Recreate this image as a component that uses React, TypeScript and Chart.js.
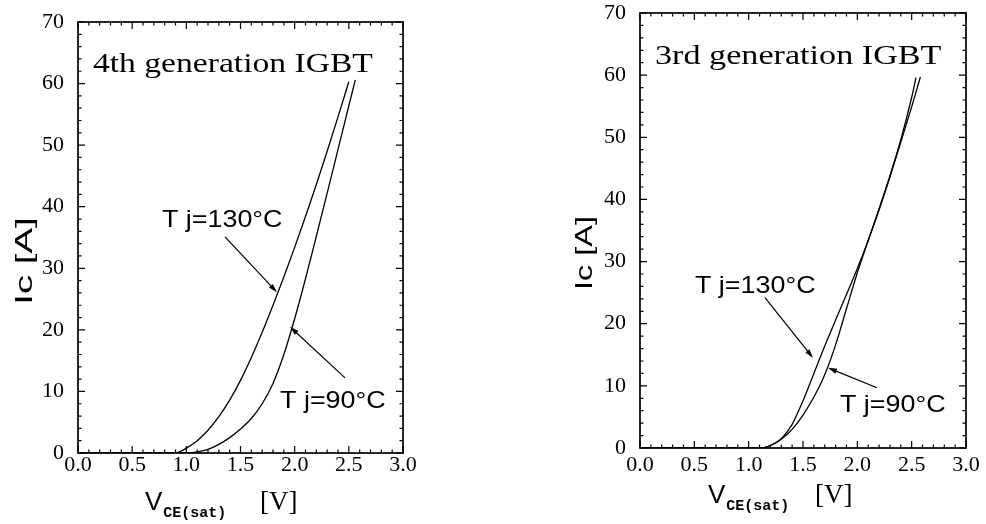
import React, { useEffect, useRef } from "react";
import { Chart, registerables } from "chart.js";

Chart.register(...registerables);

// ---- Data (VCE(sat) [V] vs Ic [A]) ----
// 4th generation IGBT
const V_4TH_130 = [0, 0.5, 0.9, 0.95, 1.0, 1.1, 1.2, 1.3, 1.4, 1.5, 1.6, 1.7, 1.8, 1.9, 2.0, 2.1, 2.2, 2.3, 2.4, 2.5];
const I_4TH_130 = [0, 0, 0, 0.3, 0.8, 2.0, 3.7, 5.9, 8.6, 11.8, 15.5, 19.6, 24.0, 28.6, 33.4, 38.4, 43.6, 49.0, 54.6, 60.3];
const V_4TH_90 = [0, 0.5, 1.0, 1.1, 1.2, 1.3, 1.4, 1.5, 1.6, 1.7, 1.8, 1.9, 2.0, 2.1, 2.2, 2.3, 2.4, 2.5, 2.56];
const I_4TH_90 = [0, 0, 0, 0.2, 0.6, 1.4, 2.5, 3.9, 5.6, 8.0, 11.3, 16.0, 21.8, 28.3, 35.2, 42.2, 49.3, 56.4, 60.6];

// 3rd generation IGBT
const V_3RD_130 = [0, 1.0, 1.12, 1.2, 1.3, 1.4, 1.5, 1.6, 1.7, 1.8, 1.9, 2.0, 2.1, 2.2, 2.3, 2.4, 2.5, 2.58];
const I_3RD_130 = [0, 0, 0, 0.4, 1.5, 3.8, 7.6, 12.0, 16.4, 20.6, 24.7, 28.9, 33.4, 38.3, 43.6, 49.2, 54.9, 59.7];
const V_3RD_90 = [0, 1.0, 1.12, 1.2, 1.3, 1.4, 1.5, 1.6, 1.7, 1.8, 1.9, 2.0, 2.1, 2.2, 2.3, 2.4, 2.5, 2.54];
const I_3RD_90 = [0, 0, 0, 0.4, 1.4, 3.0, 5.3, 8.2, 11.8, 16.6, 22.4, 28.2, 33.4, 38.5, 43.8, 49.6, 56.4, 59.6];

// Axes
const X_MIN = 0;
const X_MAX = 3;
const X_STEP = 0.5;
const X_MINOR = 0.1;
const Y_MIN = 0;
const Y_MAX = 70;
const Y_STEP = 10;
const Y_MINOR = 2;

const TITLE_4TH = "4th generation IGBT";
const TITLE_3RD = "3rd generation IGBT";
const LABEL_130 = "T j=130°C";
const LABEL_90 = "T j=90°C";
const Y_TITLE = "Ic [A]";
const X_TITLE_MAIN = "V";
const X_TITLE_SUB = "CE(sat)";
const X_TITLE_UNIT = "[V]";

type Pt = [number, number];

interface DecorOpts {
  title: string;
  titleAt: Pt;
  titleScaleX: number;
  label130At: Pt;
  arrow130: [Pt, Pt];
  label90At: Pt;
  arrow90: [Pt, Pt];
  labelScaleX: number;
  yTitleX: number;
  yTitleY: number;
  yTitleScaleX: number;
  xTitleDx: number;
  xTitleBaseline: number;
  xSubBaseline: number;
  xUnitDx: number;
}

function drawText(ctx: CanvasRenderingContext2D, text: string, x: number, y: number, font: string, sx: number, align: CanvasTextAlign = "left") {
  ctx.save();
  ctx.font = font;
  ctx.fillStyle = "#000";
  ctx.textAlign = align;
  ctx.textBaseline = "alphabetic";
  ctx.translate(x, y);
  ctx.scale(sx, 1);
  ctx.fillText(text, 0, 0);
  ctx.restore();
}

function drawArrow(ctx: CanvasRenderingContext2D, x1: number, y1: number, x2: number, y2: number) {
  const ang = Math.atan2(y2 - y1, x2 - x1);
  const len = 9;
  const hw = 2.6;
  ctx.save();
  ctx.strokeStyle = "#000";
  ctx.fillStyle = "#000";
  ctx.lineWidth = 1.2;
  ctx.beginPath();
  ctx.moveTo(x1, y1);
  ctx.lineTo(x2 - Math.cos(ang) * len * 0.6, y2 - Math.sin(ang) * len * 0.6);
  ctx.stroke();
  ctx.beginPath();
  ctx.moveTo(x2, y2);
  ctx.lineTo(x2 - Math.cos(ang) * len - Math.sin(ang) * hw, y2 - Math.sin(ang) * len + Math.cos(ang) * hw);
  ctx.lineTo(x2 - Math.cos(ang) * len + Math.sin(ang) * hw, y2 - Math.sin(ang) * len - Math.cos(ang) * hw);
  ctx.closePath();
  ctx.fill();
  ctx.restore();
}

const decorPlugin = {
  id: "igbtDecor",
  afterDraw(chart: any, _args: any, opts: DecorOpts) {
    const ctx: CanvasRenderingContext2D = chart.ctx;
    const a = chart.chartArea;
    const xs = chart.scales.x;
    const ys = chart.scales.y;
    const px = (v: number) => xs.getPixelForValue(v);
    const py = (v: number) => ys.getPixelForValue(v);

    ctx.save();
    ctx.strokeStyle = "#000";
    ctx.lineWidth = 1.7;
    ctx.strokeRect(a.left, a.top, a.right - a.left, a.bottom - a.top);

    // inward ticks on all four sides
    ctx.lineWidth = 1.2;
    ctx.beginPath();
    const nx = Math.round((X_MAX - X_MIN) / X_MINOR);
    const perMajX = Math.round(X_STEP / X_MINOR);
    for (let i = 0; i <= nx; i++) {
      const x = px(X_MIN + i * X_MINOR);
      const L = i % perMajX === 0 ? 7 : 3.5;
      ctx.moveTo(x, a.bottom);
      ctx.lineTo(x, a.bottom - L);
      ctx.moveTo(x, a.top);
      ctx.lineTo(x, a.top + L);
    }
    const ny = Math.round((Y_MAX - Y_MIN) / Y_MINOR);
    const perMajY = Math.round(Y_STEP / Y_MINOR);
    for (let i = 0; i <= ny; i++) {
      const y = py(Y_MIN + i * Y_MINOR);
      const L = i % perMajY === 0 ? 7 : 3.5;
      ctx.moveTo(a.left, y);
      ctx.lineTo(a.left + L, y);
      ctx.moveTo(a.right, y);
      ctx.lineTo(a.right - L, y);
    }
    ctx.stroke();
    ctx.restore();

    // title inside plot
    drawText(ctx, opts.title, px(opts.titleAt[0]), py(opts.titleAt[1]), '28px "Liberation Serif", serif', opts.titleScaleX);

    // temperature labels + arrows
    const sans = '24px "Liberation Sans", Arial, sans-serif';
    drawText(ctx, LABEL_130, px(opts.label130At[0]), py(opts.label130At[1]), sans, opts.labelScaleX);
    drawText(ctx, LABEL_90, px(opts.label90At[0]), py(opts.label90At[1]), sans, opts.labelScaleX);
    drawArrow(ctx, px(opts.arrow130[0][0]), py(opts.arrow130[0][1]), px(opts.arrow130[1][0]), py(opts.arrow130[1][1]));
    drawArrow(ctx, px(opts.arrow90[0][0]), py(opts.arrow90[0][1]), px(opts.arrow90[1][0]), py(opts.arrow90[1][1]));

    // y axis title (rotated)
    ctx.save();
    ctx.translate(opts.yTitleX, opts.yTitleY);
    ctx.rotate(-Math.PI / 2);
    ctx.scale(opts.yTitleScaleX, 1);
    ctx.font = '24px "Liberation Sans", Arial, sans-serif';
    ctx.fillStyle = "#000";
    ctx.textAlign = "center";
    ctx.textBaseline = "middle";
    ctx.fillText(Y_TITLE, 0, 0);
    ctx.restore();

    // x axis title: V_CE(sat) [V]
    const vx = a.left + opts.xTitleDx;
    const vy = a.bottom + opts.xTitleBaseline;
    ctx.save();
    ctx.font = '26px "Liberation Sans", Arial, sans-serif';
    const vw = ctx.measureText(X_TITLE_MAIN).width;
    ctx.restore();
    drawText(ctx, X_TITLE_MAIN, vx, vy, '26px "Liberation Sans", Arial, sans-serif', 1);
    drawText(ctx, X_TITLE_SUB, vx + vw + 1, a.bottom + opts.xSubBaseline, 'bold 15px "Liberation Mono", "DejaVu Sans Mono", monospace', 1);
    drawText(ctx, X_TITLE_UNIT, a.left + opts.xUnitDx, vy, '27px "Liberation Serif", serif', 1);
  },
};

function makeDataset(V: number[], I: number[]) {
  return {
    data: V.map((v, i) => ({ x: v, y: I[i] })),
    showLine: true,
    borderColor: "#000",
    borderWidth: 1.3,
    pointRadius: 0,
    fill: false,
    cubicInterpolationMode: "monotone" as const,
  };
}

interface PanelProps {
  left: number;
  width: number;
  height: number;
  padTop: number;
  padRight: number;
  yAxisWidth: number;
  xAxisHeight: number;
  xTickPad: number;
  series: [number[], number[]][];
  decor: DecorOpts;
}

function Panel(p: PanelProps) {
  const ref = useRef<HTMLCanvasElement | null>(null);
  useEffect(() => {
    if (!ref.current) return;
    const tickFont = { family: '"Liberation Serif", "Times New Roman", serif', size: 22, lineHeight: 1 };
    const chart = new Chart(ref.current, {
      type: "scatter",
      data: { datasets: p.series.map(([v, i]) => makeDataset(v, i)) as any },
      options: {
        responsive: false,
        animation: false,
        events: [],
        layout: { padding: { left: 0, top: p.padTop, right: p.padRight, bottom: 0 } },
        plugins: {
          legend: { display: false },
          tooltip: { enabled: false },
          igbtDecor: p.decor as any,
        } as any,
        scales: {
          x: {
            type: "linear",
            min: X_MIN,
            max: X_MAX,
            grid: { display: false },
            border: { display: false },
            ticks: {
              stepSize: X_STEP,
              autoSkip: false,
              maxRotation: 0,
              color: "#000",
              padding: p.xTickPad,
              font: tickFont,
              callback: (v: any) => Number(v).toFixed(1),
            },
            afterFit: (s: any) => {
              s.height = p.xAxisHeight;
              s.paddingLeft = 0;
              s.paddingRight = 0;
            },
          },
          y: {
            type: "linear",
            min: Y_MIN,
            max: Y_MAX,
            grid: { display: false },
            border: { display: false },
            ticks: {
              stepSize: Y_STEP,
              color: "#000",
              padding: 6,
              font: tickFont,
            },
            afterFit: (s: any) => {
              s.width = p.yAxisWidth;
              s.paddingTop = 0;
              s.paddingBottom = 0;
            },
          },
        },
      },
      plugins: [decorPlugin as any],
    });
    return () => chart.destroy();
  }, []);
  return (
    <canvas
      ref={ref}
      width={p.width}
      height={p.height}
      style={{ position: "absolute", left: p.left, top: 0, width: p.width, height: p.height, display: "block" }}
    />
  );
}

export default function App() {
  return (
    <div style={{ position: "fixed", left: 0, top: 0, width: 986, height: 524, background: "#fff", overflow: "hidden" }}>
      <Panel
        left={0}
        width={420}
        height={524}
        padTop={22}
        padRight={17}
        yAxisWidth={78}
        xAxisHeight={71}
        xTickPad={-7}
        series={[
          [V_4TH_130, I_4TH_130],
          [V_4TH_90, I_4TH_90],
        ]}
        decor={{
          title: TITLE_4TH,
          titleAt: [0.138, 61.9],
          titleScaleX: 1.2,
          label130At: [0.775, 36.7],
          arrow130: [
            [1.357, 35.1],
            [1.837, 26.1],
          ],
          label90At: [1.865, 7.3],
          arrow90: [
            [2.465, 12.2],
            [1.957, 20.5],
          ],
          labelScaleX: 1.12,
          yTitleX: 25,
          yTitleY: 261,
          yTitleScaleX: 1.6,
          xTitleDx: 67,
          xTitleBaseline: 57,
          xSubBaseline: 64,
          xUnitDx: 182,
        }}
      />
      <Panel
        left={520}
        width={466}
        height={524}
        padTop={13}
        padRight={20}
        yAxisWidth={120}
        xAxisHeight={76}
        xTickPad={-2}
        series={[
          [V_3RD_130, I_3RD_130],
          [V_3RD_90, I_3RD_90],
        ]}
        decor={{
          title: TITLE_3RD,
          titleAt: [0.138, 61.8],
          titleScaleX: 1.22,
          label130At: [0.506, 25.0],
          arrow130: [
            [1.15, 24.2],
            [1.592, 14.5],
          ],
          label90At: [1.84, 5.8],
          arrow90: [
            [2.181, 9.7],
            [1.73, 12.9],
          ],
          labelScaleX: 1.12,
          yTitleX: 65,
          yTitleY: 253,
          yTitleScaleX: 1.35,
          xTitleDx: 68,
          xTitleBaseline: 55,
          xSubBaseline: 62,
          xUnitDx: 175,
        }}
      />
    </div>
  );
}
